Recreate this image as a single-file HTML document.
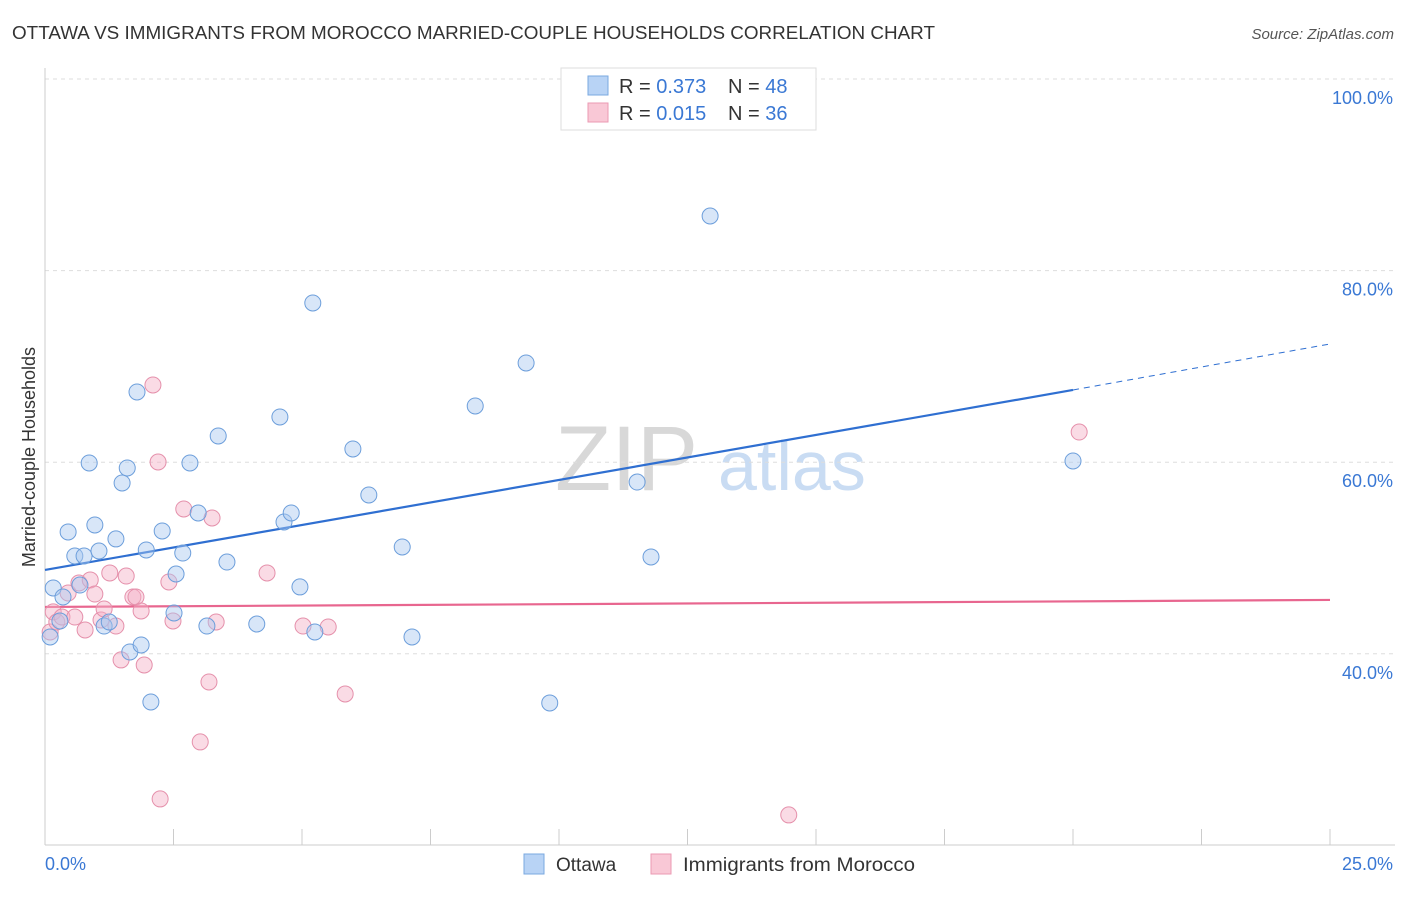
<!DOCTYPE html>
<html><head><meta charset="utf-8"><style>
body{margin:0;background:#fff;font-family:"Liberation Sans",sans-serif;}
svg text{font-family:"Liberation Sans",sans-serif;}
</style></head><body>
<svg id="chart" width="1406" height="892">
<text x="12" y="39" font-size="18" fill="#333" textLength="923" lengthAdjust="spacingAndGlyphs">OTTAWA VS IMMIGRANTS FROM MOROCCO MARRIED-COUPLE HOUSEHOLDS CORRELATION CHART</text>
<text x="1394" y="39" font-size="15" fill="#555" font-style="italic" text-anchor="end">Source: ZipAtlas.com</text>
<g>
<text x="555" y="490" font-size="92" fill="#d8d8d8" font-family="Liberation Serif">ZIP</text>
<text x="718" y="490" font-size="70" fill="#c9dcf3">atlas</text>
</g>
<g id="grid"></g>
<g id="axes"></g>
<g id="lines"></g>
<g id="points"></g>
<text transform="translate(35,457) rotate(-90)" font-size="18" fill="#333" text-anchor="middle">Married-couple Households</text>
<g>
<rect x="561" y="68" width="255" height="62" fill="#fff" stroke="#ddd"/>
<rect x="588" y="76" width="20" height="19" fill="#b8d3f5" stroke="#7aa8e0"/>
<rect x="588" y="103" width="20" height="19" fill="#f9c8d6" stroke="#eb9ab3"/>
<text x="619" y="93" font-size="20" fill="#333">R = <tspan fill="#3a78d4">0.373</tspan></text>
<text x="728" y="93" font-size="20" fill="#333">N = <tspan fill="#3a78d4">48</tspan></text>
<text x="619" y="120" font-size="20" fill="#333">R = <tspan fill="#3a78d4">0.015</tspan></text>
<text x="728" y="120" font-size="20" fill="#333">N = <tspan fill="#3a78d4">36</tspan></text>
</g>
<g>
<rect x="524" y="854" width="20" height="20" fill="#b8d3f5" stroke="#7aa8e0"/>
<text x="556" y="871" font-size="19" fill="#333">Ottawa</text>
<rect x="651" y="854" width="20" height="20" fill="#f9c8d6" stroke="#eb9ab3"/>
<text x="683" y="871" font-size="19" fill="#333" textLength="232" lengthAdjust="spacingAndGlyphs">Immigrants from Morocco</text>
</g>
</svg>
<script>
const blueX=[0.10,0.16,0.29,0.35,0.45,0.58,0.68,0.76,0.86,0.97,1.05,1.15,1.25,1.38,1.50,1.60,1.65,1.79,1.87,1.97,2.06,2.28,2.51,2.55,2.68,2.82,2.98,3.15,3.37,3.54,4.12,4.57,4.65,4.79,4.96,5.21,5.25,5.99,6.30,6.95,7.14,8.37,9.36,9.82,11.52,11.79,12.94,20.00];
const blueY=[41.76,46.87,43.43,45.93,52.72,50.21,47.18,50.21,59.92,53.45,50.73,42.90,43.32,51.99,57.83,59.40,40.19,67.33,40.92,50.84,34.97,52.82,44.26,48.33,50.52,59.92,54.70,42.90,62.74,49.58,43.11,64.72,53.76,54.70,46.98,76.62,42.28,61.38,56.58,51.15,41.76,65.87,70.36,34.87,57.93,50.11,85.70,60.13];
const pinkX=[0.10,0.16,0.23,0.33,0.45,0.58,0.66,0.78,0.88,0.97,1.09,1.15,1.26,1.38,1.48,1.58,1.71,1.77,1.87,1.93,2.10,2.20,2.24,2.41,2.49,2.70,3.02,3.19,3.25,3.33,4.32,5.02,5.51,5.84,14.47,20.12];
const pinkY=[42.28,44.37,43.32,43.84,46.35,43.84,47.39,42.49,47.71,46.24,43.53,44.68,48.44,42.90,39.36,48.12,45.93,45.93,44.47,38.83,68.06,60.02,24.85,47.50,43.43,55.12,30.80,37.06,54.18,43.32,48.44,42.90,42.80,35.81,23.18,63.15];
const blueTrend=[48.75,67.54,72.34];
const pinkTrend=[44.89,45.62];
const yTicks=[100,80,60,40];
const yTickLabels=["100.0%","80.0%","60.0%","40.0%"];
const xTicks=[0,2.5,5,7.5,10,12.5,15,17.5,20,22.5,25];

const NS="http://www.w3.org/2000/svg";
const xs=v=>45+v/25*1285;
const ys=v=>79+(100-v)*9.58;
function mk(tag,attrs,parent){const e=document.createElementNS(NS,tag);for(const k in attrs)e.setAttribute(k,attrs[k]);document.getElementById(parent).appendChild(e);return e;}

yTicks.forEach((t,i)=>{
  const g=mk('line',{x1:45,x2:1395,y1:ys(t),y2:ys(t),stroke:'#ddd','stroke-dasharray':'4,4'},'grid');
  
  
  const l=mk('text',{x:1393,y:ys(t)+25,'font-size':18,fill:'#3a78d4','text-anchor':'end'},'axes');
  l.textContent=yTickLabels[i];
  
  
});
let a=mk('line',{x1:45,x2:45,y1:68,y2:845,stroke:'#ccc'},'axes');


a=mk('line',{x1:45,x2:1395,y1:845,y2:845,stroke:'#ccc'},'axes');


xTicks.forEach(t=>{
  const tk=mk('line',{x1:xs(t),x2:xs(t),y1:829,y2:845,stroke:'#ccc'},'axes');
  
  
});
let xl=mk('text',{x:45,y:870,'font-size':18,fill:'#3a78d4'},'axes');xl.textContent=xTicks[0].toFixed(1)+'%';


xl=mk('text',{x:1393,y:870,'font-size':18,fill:'#3a78d4','text-anchor':'end'},'axes');xl.textContent=xTicks[xTicks.length-1].toFixed(1)+'%';



function drawPts(X,Y,fill,stroke,name){
  X.forEach((x,i)=>{
    const c=mk('circle',{cx:xs(x),cy:ys(Y[i]),r:8,fill:fill,'fill-opacity':0.45,stroke:stroke,'stroke-width':1},'points');
    
    
  });
}
drawPts(pinkX,pinkY,'#f5b0c6','#e590ab','morocco-point');
drawPts(blueX,blueY,'#a9c8f0','#6c9edb','ottawa-point');

let ln=mk('line',{x1:xs(0),y1:ys(blueTrend[0]),x2:xs(20),y2:ys(blueTrend[1]),stroke:'#2f6fd1','stroke-width':2.2},'lines');


ln=mk('line',{x1:xs(20),y1:ys(blueTrend[1]),x2:xs(25),y2:ys(blueTrend[2]),stroke:'#2f6fd1','stroke-width':1,'stroke-dasharray':'6,5'},'lines');


ln=mk('line',{x1:xs(0),y1:ys(pinkTrend[0]),x2:xs(25),y2:ys(pinkTrend[1]),stroke:'#e8668f','stroke-width':2.2},'lines');


</script>
</body></html>
